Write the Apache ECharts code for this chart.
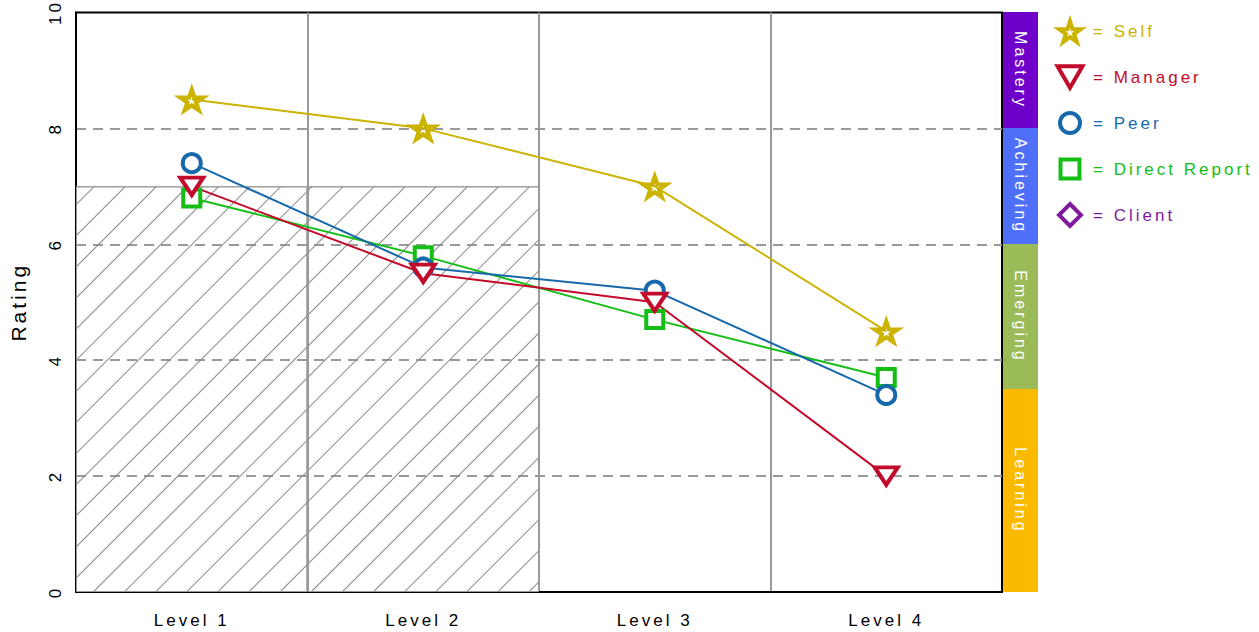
<!DOCTYPE html>
<html>
<head>
<meta charset="utf-8">
<script src="https://cdn.jsdelivr.net/npm/echarts@6/dist/echarts.min.js"></script>
<style>
  html, body { margin: 0; padding: 0; background: #fff; }
  #chart { width: 1259px; height: 632px; }
  #chart text { letter-spacing: 3px; }
</style>
</head>
<body>
<div id="chart"></div>
<script>
// Ratings per level and rater group
const levels = ['Level 1', 'Level 2', 'Level 3', 'Level 4'];
const selfVals = [8.5, 8.0, 7.0, 4.5];
const managerVals = [7.0, 5.5, 5.0, 2.0];
const peerVals = [7.4, 5.6, 5.2, 3.4];
const directVals = [6.8, 5.8, 4.7, 3.7];
const clientVals = [null, null, null, null];
// Expected level (hatched region)
const expectedVals = [7, 7, null, null];
// Rating scale
const yMin = 0, yMax = 10, yStep = 2;
// Proficiency bands, bottom to top, with their spans on the rating scale
const bandNames = ['Learning', 'Emerging', 'Achieving', 'Mastery'];
const bandSpans = [3.5, 2.5, 2, 2];
const bandColors = ['#FBB900', '#9BBA58', '#4F6FF8', '#6E00C9'];

const C = {
  self: '#CCB300',
  manager: '#C20A2A',
  peer: '#1769AB',
  direct: '#15BE15',
  client: '#7E1B9D'
};

// Marker shapes (0..100 box)
const STAR = 'M50,0 L61.23,34.55 L97.55,34.55 L68.17,55.9 L79.39,90.45 L50,69.1 L20.61,90.45 L31.83,55.9 L2.45,34.55 L38.77,34.55 Z ' +
             'M50,37 L47.09,45.99 L37.64,46.0 L45.28,51.55 L42.37,60.5 L50,54.96 L57.63,60.5 L54.72,51.55 L62.36,46.0 L52.91,45.99 Z';
const TRI = 'M0,0 L100,0 L50,86.6 Z';
const CIRC = 'M50,0 A50,50 0 1,1 50,100 A50,50 0 1,1 50,0 Z';
const SQR = 'M0,0 L100,0 L100,100 L0,100 Z';
const DIAM = 'M50,0 L100,50 L50,100 L0,50 Z';

// Legend icons share one box size; empty move-to points give each shape its own margin
function padded(p, padX, padY, w, h) {
  return 'path://M' + (-padX) + ',' + (-padY) + ' M' + (w + padX) + ',' + (h + padY) + ' ' + p;
}

const font = 'Liberation Sans, Arial, Helvetica, sans-serif';

function raterSeries(name, data, color, symbol, size, border) {
  return {
    name: name,
    type: 'line',
    data: data,
    symbol: symbol,
    symbolSize: size,
    symbolKeepAspect: true,
    showAllSymbol: true,
    lineStyle: { color: color, width: 2 },
    itemStyle: border ? { color: '#fff', borderColor: color, borderWidth: border } : { color: color, borderWidth: 0 },
    emphasis: { disabled: true },
    z: 5
  };
}

const bandSeries = bandNames.map((n, i) => ({
  name: n,
  type: 'bar',
  xAxisIndex: 1,
  yAxisIndex: 1,
  stack: 'band',
  barWidth: '100%',
  data: [bandSpans[i]],
  silent: true,
  itemStyle: { color: bandColors[i] },
  label: {
    show: true,
    position: 'inside',
    rotate: -90,
    color: '#fff',
    fontSize: 16,
    fontFamily: font,
    formatter: n
  },
  emphasis: { disabled: true }
}));

const option = {
  animation: false,
  textStyle: { fontFamily: font },
  grid: [
    { left: 76, top: 12, width: 926, height: 580, show: true, borderColor: '#000', borderWidth: 2, backgroundColor: 'transparent' },
    { left: 1003, top: 12, width: 35, height: 580 }
  ],
  xAxis: [
    {
      type: 'category',
      data: levels,
      boundaryGap: true,
      axisLine: { lineStyle: { color: '#000', width: 2 } },
      axisTick: { show: false },
      axisLabel: { color: '#000', fontSize: 17, margin: 20 },
      splitLine: { show: true, showMinLine: false, showMaxLine: false, lineStyle: { color: '#999', width: 2 } }
    },
    { type: 'category', data: [''], gridIndex: 1, show: false }
  ],
  yAxis: [
    {
      type: 'value',
      min: yMin, max: yMax, interval: yStep,
      name: 'Rating',
      nameLocation: 'middle',
      nameGap: 47,
      nameTextStyle: { color: '#000', fontSize: 21 },
      axisLine: { show: true, lineStyle: { color: '#000', width: 2 } },
      axisTick: { show: false },
      axisLabel: { rotate: 90, color: '#000', fontSize: 17, margin: 12 },
      splitLine: { show: true, showMinLine: false, showMaxLine: false, lineStyle: { color: '#999', width: 2, type: [10, 7] } }
    },
    { type: 'value', min: yMin, max: yMax, gridIndex: 1, show: false }
  ],
  legend: {
    orient: 'vertical',
    left: 1050,
    top: 11,
    padding: 0,
    itemWidth: 36,
    itemHeight: 36,
    itemGap: 6,
    selectedMode: false,
    symbolKeepAspect: true,
    formatter: name => '= ' + name,
    textStyle: { fontSize: 17 },
    data: [
      { name: 'Self', icon: padded(STAR, 0, 4.8, 100, 90.45), itemStyle: { color: C.self, borderColor: 'rgba(255,255,255,0)', borderWidth: 4 }, textStyle: { color: C.self } },
      { name: 'Manager', icon: padded(TRI, 22, 28.7, 100, 86.6), itemStyle: { color: '#fff', borderColor: C.manager, borderWidth: 4 }, textStyle: { color: C.manager } },
      { name: 'Peer', icon: padded(CIRC, 40, 40, 100, 100), itemStyle: { color: '#fff', borderColor: C.peer, borderWidth: 4 }, textStyle: { color: C.peer } },
      { name: 'Direct Report', icon: padded(SQR, 45, 45, 100, 100), itemStyle: { color: '#fff', borderColor: C.direct, borderWidth: 4 }, textStyle: { color: C.direct } },
      { name: 'Client', icon: padded(DIAM, 32, 32, 100, 100), itemStyle: { color: '#fff', borderColor: C.client, borderWidth: 4 }, textStyle: { color: C.client } }
    ]
  },
  series: [
    {
      name: 'Expected',
      type: 'bar',
      data: expectedVals,
      barWidth: '100%',
      silent: true,
      z: 1,
      itemStyle: {
        color: 'rgba(0,0,0,0)',
        borderColor: '#999',
        borderWidth: 1,
        decal: {
          symbol: 'rect',
          symbolSize: 1,
          color: '#888',
          backgroundColor: 'rgba(0,0,0,0)',
          dashArrayX: [1, 0],
          dashArrayY: [1, 21],
          rotation: -Math.PI / 4
        }
      },
      emphasis: { disabled: true }
    },
    raterSeries('Client', clientVals, C.client, 'path://' + DIAM, 20, 4),
    raterSeries('Direct Report', directVals, C.direct, 'rect', 17, 4),
    raterSeries('Peer', peerVals, C.peer, 'circle', 18, 4),
    raterSeries('Manager', managerVals, C.manager, 'path://' + TRI, [23, 20], 4),
    raterSeries('Self', selfVals, C.self, 'path://' + STAR, [36, 34], 0)
  ].concat(bandSeries)
};

const chart = echarts.init(document.getElementById('chart'), null, { renderer: 'svg' });
chart.setOption(option);
</script>
</body>
</html>
